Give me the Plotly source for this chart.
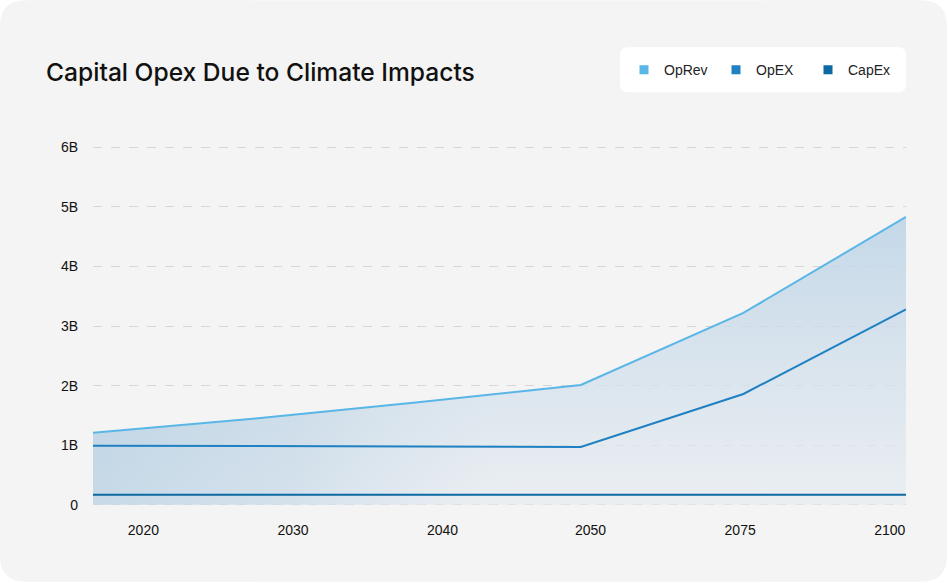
import plotly.graph_objects as go

# ---- data (billions) ----
years = ["2020", "2030", "2040", "2050", "2075", "2100"]
oprev = [1.21, 1.45, 1.72, 2.01, 3.22, 4.83]
opex = [0.99, 0.99, 0.98, 0.97, 1.86, 3.28]
capex = [0.17, 0.17, 0.17, 0.17, 0.17, 0.17]
series_names = ["OpRev", "OpEX", "CapEx"]
series_colors = ["#5ab6e6", "#1f80c2", "#0c69a2"]
y_ticks = [0, 1, 2, 3, 4, 5, 6]
y_labels = ["0", "1B", "2B", "3B", "4B", "5B", "6B"]

W, H = 948, 583
Y0, Y1 = -0.02, 6.02
PX_PER = (505 - 147) / 6.0
L, R = 93, 42
T = 147 - (Y1 - 6) * PX_PER
B = H - (505 + (0 - Y0) * PX_PER)
PW, PH = W - L - R, H - T - B

xs = list(range(len(years)))

def px2paper(px, py):
    return (px - L) / PW, (H - B - py) / PH

def rounded_path(x0, y0, x1, y1, r):
    pts = [
        ("M", [(x0 + r, y0)]), ("L", [(x1 - r, y0)]), ("Q", [(x1, y0), (x1, y0 + r)]),
        ("L", [(x1, y1 - r)]), ("Q", [(x1, y1), (x1 - r, y1)]), ("L", [(x0 + r, y1)]),
        ("Q", [(x0, y1), (x0, y1 - r)]), ("L", [(x0, y0 + r)]), ("Q", [(x0, y0), (x0 + r, y0)]),
    ]
    s = ""
    for cmd, ps in pts:
        s += cmd + " " + " ".join("%.5f,%.5f" % px2paper(a, b) for a, b in ps) + " "
    return s + "Z"

FONT = "Liberation Sans"

fig = go.Figure()

# base area: vertical gradient (bluer near the top, paler toward zero)
fig.add_trace(go.Scatter(
    x=xs, y=oprev, mode="lines", line=dict(width=0, color="rgba(0,0,0,0)"),
    fill="tozeroy",
    fillgradient=dict(type="vertical", start=0, stop=max(oprev), colorscale=[
        [0.0, "rgba(232,237,241,0.75)"], [0.35, "rgba(215,227,237,0.75)"],
        [1.0, "rgba(188,211,230,0.85)"]]),
    showlegend=False, hoverinfo="skip"))
# overlay: extra blue tint on the left side
fig.add_trace(go.Scatter(
    x=xs, y=oprev, mode="lines", line=dict(width=0, color="rgba(0,0,0,0)"),
    fill="tozeroy",
    fillgradient=dict(type="horizontal", start=0, stop=5, colorscale=[
        [0.0, "rgba(170,200,223,0.55)"], [0.25, "rgba(180,206,226,0.4)"],
        [0.5, "rgba(200,218,232,0.0)"], [1.0, "rgba(200,218,232,0.0)"]]),
    showlegend=False, hoverinfo="skip"))

fig.add_trace(go.Scatter(x=xs, y=oprev, mode="lines",
                         line=dict(color=series_colors[0], width=2), showlegend=False))
fig.add_trace(go.Scatter(x=xs, y=opex, mode="lines",
                         line=dict(color=series_colors[1], width=2), showlegend=False))
fig.add_trace(go.Scatter(x=xs, y=capex, mode="lines",
                         line=dict(color=series_colors[2], width=2), showlegend=False))

for name, col in zip(series_names, series_colors):
    fig.add_trace(go.Scatter(x=[None], y=[None], mode="markers", name=name,
                             marker=dict(symbol="square", size=9, color=col)))

# tick label positions (labels are offset relative to data points in the reference)
tick_pos = [0.31, 1.23, 2.15, 3.06, 3.98, 4.9]

shapes = [
    dict(type="path", xref="paper", yref="paper", path=rounded_path(0, 0, 947, 582, 26),
         fillcolor="#f4f4f4", line=dict(width=0), layer="below"),
    dict(type="path", xref="paper", yref="paper", path=rounded_path(620, 47, 906, 92, 8),
         fillcolor="#ffffff", line=dict(width=0), layer="below"),
]

fig.update_layout(
    width=W, height=H,
    margin=dict(l=L, r=R, t=T, b=B),
    paper_bgcolor="#ffffff", plot_bgcolor="rgba(0,0,0,0)",
    font=dict(family=FONT, size=14, color="#111111"),
    title=dict(text="Capital Opex Due to Climate Impacts", xref="container", yref="container",
               x=46 / W, xanchor="left", y=1 - 72 / H, yanchor="middle",
               font=dict(family="Inter", size=24.6, weight=500, color="#111111")),
    shapes=shapes,
    showlegend=True,
    legend=dict(orientation="h", x=(624 - L) / PW, xanchor="left",
                y=(H - B - 70) / PH, yanchor="middle", bgcolor="rgba(0,0,0,0)",
                font=dict(family=FONT, size=14, color="#222222"),
                entrywidth=47, entrywidthmode="pixels"),
    xaxis=dict(range=[0, 5], tickmode="array", tickvals=tick_pos, ticktext=years,
               showgrid=False, zeroline=False, showline=False, ticks="",
               ticklabelstandoff=14, fixedrange=True),
    yaxis=dict(range=[Y0, Y1], tickmode="array", tickvals=y_ticks, ticktext=y_labels,
               showgrid=True, gridcolor="#d6d6d6", griddash="dash", gridwidth=1,
               zeroline=False, showline=False, ticks="", ticklabelstandoff=14,
               fixedrange=True),
)

fig.write_html("out.html", config={"displayModeBar": False},
               post_script="document.body.style.margin='0';document.body.style.background='#ffffff';")
